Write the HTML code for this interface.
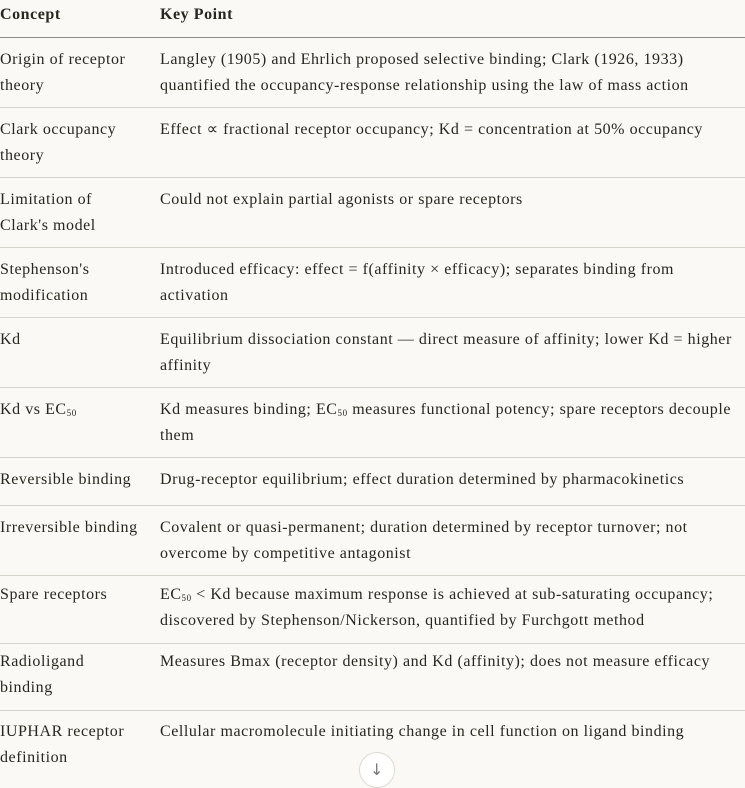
<!DOCTYPE html>
<html><head><style>
html,body{margin:0;padding:0;background:#faf9f5;}
body{width:745px;height:777px;overflow:hidden;position:relative;font-family:"Liberation Serif",serif;color:#29261f;font-size:16px;letter-spacing:0.55px;}
table{border-collapse:collapse;position:absolute;left:0;top:0;width:745px;table-layout:fixed;}
td,th{text-align:left;vertical-align:top;padding:9px 0 0 0;line-height:26px;box-sizing:border-box;overflow:visible;}
th{font-weight:bold;height:37px;padding-top:2px;border-bottom:1.5px solid #8f8c85;}
tr.r td{border-bottom:1px solid #d6d3cc;}
td.a{padding-right:4px;white-space:nowrap;}
sub{font-size:9px;vertical-align:-2px;line-height:0;}
.btn{position:absolute;left:359px;top:752px;width:36px;height:36px;border-radius:50%;background:#fff;border:1px solid #dcd9d2;box-sizing:border-box;text-align:center;color:#777;font-family:"DejaVu Sans",sans-serif;font-size:16px;line-height:34px;}
</style></head><body>
<table>
<colgroup><col style="width:160px"><col style="width:585px"></colgroup>
<tr><th>Concept</th><th>Key Point</th></tr>
<tr class="r" style="height:70px"><td class="a">Origin of receptor<br>theory</td><td>Langley (1905) and Ehrlich proposed selective binding; Clark (1926, 1933) quantified the occupancy-response relationship using the law of mass action</td></tr>
<tr class="r" style="height:70px"><td class="a">Clark occupancy<br>theory</td><td>Effect ∝ fractional receptor occupancy; Kd = concentration at 50% occupancy</td></tr>
<tr class="r" style="height:70px"><td class="a">Limitation of<br>Clark's model</td><td>Could not explain partial agonists or spare receptors</td></tr>
<tr class="r" style="height:70px"><td class="a">Stephenson's<br>modification</td><td>Introduced efficacy: effect = f(affinity × efficacy); separates binding from activation</td></tr>
<tr class="r" style="height:70px"><td class="a">Kd</td><td>Equilibrium dissociation constant — direct measure of affinity; lower Kd = higher affinity</td></tr>
<tr class="r" style="height:70px"><td class="a">Kd vs EC<sub>50</sub></td><td>Kd measures binding; EC<sub>50</sub> measures functional potency; spare receptors decouple them</td></tr>
<tr class="r" style="height:48px"><td class="a">Reversible binding</td><td>Drug-receptor equilibrium; effect duration determined by pharmacokinetics</td></tr>
<tr class="r" style="height:70px"><td class="a">Irreversible binding</td><td>Covalent or quasi-permanent; duration determined by receptor turnover; not overcome by competitive antagonist</td></tr>
<tr class="r" style="height:68px"><td class="a" style="padding-top:6px">Spare receptors</td><td style="padding-top:6px">EC<sub>50</sub> &lt; Kd because maximum response is achieved at sub-saturating occupancy; discovered by Stephenson/Nickerson, quantified by Furchgott method</td></tr>
<tr class="r" style="height:67px"><td class="a" style="padding-top:5px">Radioligand<br>binding</td><td style="padding-top:5px">Measures Bmax (receptor density) and Kd (affinity); does not measure efficacy</td></tr>
<tr style="height:70px"><td class="a" style="padding-top:8px">IUPHAR receptor<br>definition</td><td style="padding-top:8px">Cellular macromolecule initiating change in cell function on ligand binding</td></tr>
</table>
<div class="btn">↓</div>
</body></html>
